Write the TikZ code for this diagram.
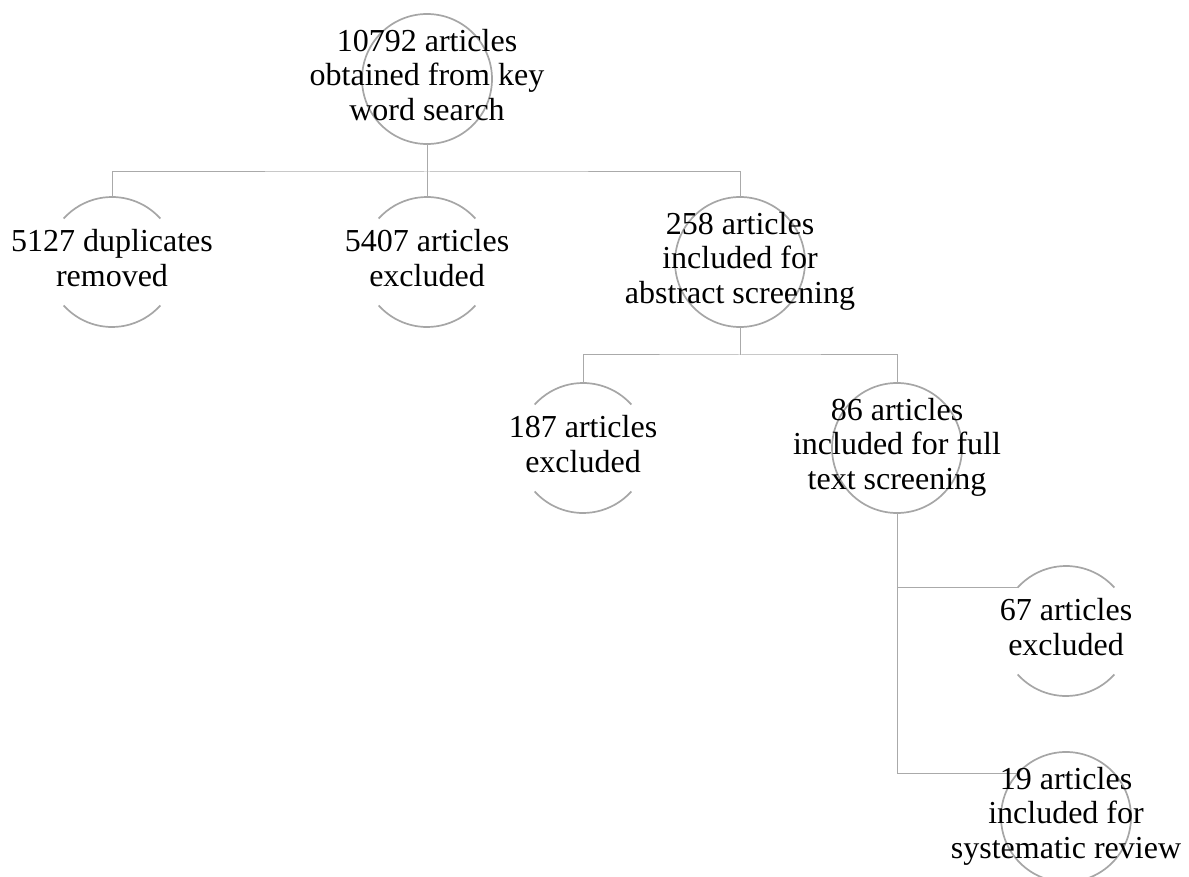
\documentclass[tikz,border=0pt]{standalone}
\usepackage{fontspec}
\setmainfont{Liberation Serif}
\usepackage{tikz}
\usetikzlibrary{calc}
\definecolor{ringgray}{RGB}{166,166,166}
\definecolor{linkgray}{RGB}{170,170,170}
\tikzset{
  ring/.style={circle, minimum size=65pt, inner sep=0pt, outer sep=0pt},
  fullring/.style={ring, draw=ringgray, line width=0.85pt},
  arcline/.style={draw=ringgray, line width=0.85pt},
  txt/.style={align=center, inner sep=0pt, font=\fontsize{16pt}{17.4pt}\selectfont},
  link/.style={draw=linkgray, line width=0.5pt}
}
\begin{document}
\begin{tikzpicture}[x=0.5pt, y=-0.5pt]
\useasboundingbox (0,0) rectangle (1189,877);
\node[fullring] (root) at (427,79) {};
\node[ring] (dup) at (112,262) {};
\node[ring] (exclA) at (427,262) {};
\node[fullring] (absScr) at (740,262) {};
\node[ring] (exclB) at (583,448) {};
\node[fullring] (fullScr) at (897,448) {};
\node[ring] (exclC) at (1066,631) {};
\node[fullring] (incl) at (1066,817) {};
\foreach \n in {dup, exclA, exclB, exclC} {
  \draw[arcline] (\n.42) arc[start angle=42, end angle=138, radius=32.5pt];
  \draw[arcline] (\n.222) arc[start angle=222, end angle=318, radius=32.5pt];
}
\coordinate (busA) at ([yshift=-14pt]root.south);
\coordinate (busB) at ([yshift=-14pt]absScr.south);
\draw[link] (root.south) -- (busA);
\draw[link] (dup.north) |- (busA) -| (absScr.north);
\draw[link] (exclA.north) -- (exclA.north |- busA);
\draw[link] (absScr.south) -- (busB);
\draw[link] (exclB.north) |- (busB) -| (fullScr.north);
\draw[link] (fullScr.south) |- (incl.138);
\draw[link] (fullScr.south |- exclC.138) -- (exclC.138);
\node[txt] (rootT) at (root) {\strut 10792 articles\\obtained from key\\word search\strut};
\node[txt] (dupT) at (dup) {\strut 5127 duplicates\\removed\strut};
\node[txt] (exclAT) at (exclA) {\strut 5407 articles\\excluded\strut};
\node[txt] (absScrT) at (absScr) {\strut 258 articles\\included for\\abstract screening\strut};
\node[txt] (exclBT) at (exclB) {\strut 187 articles\\excluded\strut};
\node[txt] (fullScrT) at (fullScr) {\strut 86 articles\\included for full\\text screening\strut};
\node[txt] (exclCT) at (exclC) {\strut 67 articles\\excluded\strut};
\node[txt] (inclT) at (incl) {\strut 19 articles\\included for\\systematic review\strut};
\end{tikzpicture}
\end{document}
